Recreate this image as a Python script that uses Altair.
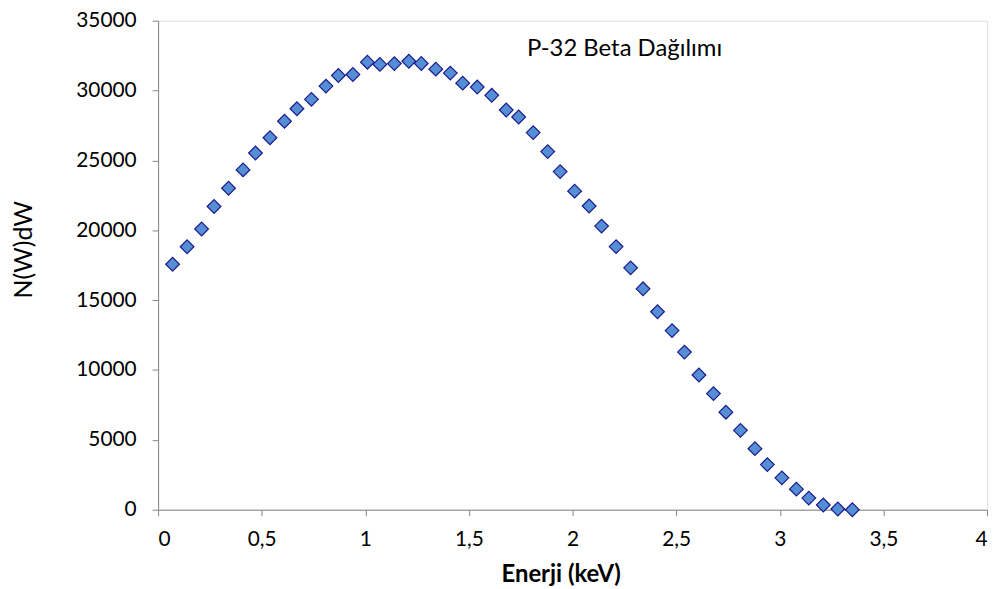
import altair as alt
import pandas as pd

energy = [0.07, 0.14, 0.21, 0.27, 0.34, 0.41, 0.47, 0.54, 0.61, 0.67,
          0.74, 0.81, 0.87, 0.94, 1.01, 1.07, 1.14, 1.21, 1.27, 1.34,
          1.41, 1.47, 1.54, 1.61, 1.68, 1.74, 1.81, 1.88, 1.94, 2.01,
          2.08, 2.14, 2.21, 2.28, 2.34, 2.41, 2.48, 2.54, 2.61, 2.68,
          2.74, 2.81, 2.88, 2.94, 3.01, 3.08, 3.14, 3.21, 3.28, 3.35]
counts = [17570, 18820, 20090, 21700, 23010, 24320, 25530, 26620, 27800, 28700,
          29370, 30320, 31080, 31150, 32030, 31870, 31930, 32100, 31940, 31530,
          31250, 30530, 30250, 29660, 28610, 28110, 26990, 25630, 24200, 22800,
          21740, 20300, 18830, 17310, 15810, 14170, 12820, 11280, 9640, 8310,
          6980, 5680, 4370, 3230, 2280, 1470, 830, 335, 50, 0]

x_ticks = [0, 0.5, 1, 1.5, 2, 2.5, 3, 3.5, 4]
y_ticks = [0, 5000, 10000, 15000, 20000, 25000, 30000, 35000]

df = pd.DataFrame({"Enerji": energy, "N": counts})

FONT = "Lato"
AXIS_COLOR = "#868686"

points = alt.Chart(df).mark_point(
    shape="diamond", filled=True, fill="#558ED5", stroke="#1A1A8C",
    strokeWidth=1.2, size=190, opacity=1
).encode(
    x=alt.X("Enerji:Q", scale=alt.Scale(domain=[0, 4], nice=False),
            axis=alt.Axis(title="Enerji (keV)", values=x_ticks,
                          labelExpr="replace(toString(datum.value), '.', ',')",
                          grid=False, domainColor=AXIS_COLOR, tickColor=AXIS_COLOR,
                          tickSize=6, labelPadding=13, labelFontSize=21,
                          labelFont=FONT, labelColor="#000000",
                          titleFont=FONT, titleFontSize=24, titleFontWeight="bold",
                          titleColor="#000000", titleX=405, titleY=72,
                          titleAlign="center", titleBaseline="alphabetic")),
    y=alt.Y("N:Q", scale=alt.Scale(domain=[0, 35000], nice=False),
            axis=alt.Axis(title="N(W)dW", values=y_ticks,
                          format="d", grid=False, domainColor=AXIS_COLOR,
                          tickColor=AXIS_COLOR, tickSize=6, labelPadding=16,
                          labelFontSize=21, labelFont=FONT, labelColor="#000000",
                          titleFont=FONT, titleFontSize=25, titleFontWeight="normal",
                          titleColor="#000000", titleAngle=270, titleAlign="center",
                          titleBaseline="alphabetic", titleX=-127, titleY=230))
)

label = alt.Chart(pd.DataFrame({"t": ["P-32 Beta Dağılımı"], "x": [1.78], "y": [32460]})).mark_text(
    align="left", baseline="alphabetic", font=FONT, fontSize=24, color="#000000"
).encode(x="x:Q", y="y:Q", text="t:N")

chart = alt.layer(points, label).properties(
    width=834, height=492,
    autosize=alt.AutoSizeParams(type="none"),
    padding={"left": 151, "top": 11, "right": 5, "bottom": 78}
).configure_view(stroke=None).configure(background="white")

chart.save("out.html", embed_options={"renderer": "svg", "actions": False})
